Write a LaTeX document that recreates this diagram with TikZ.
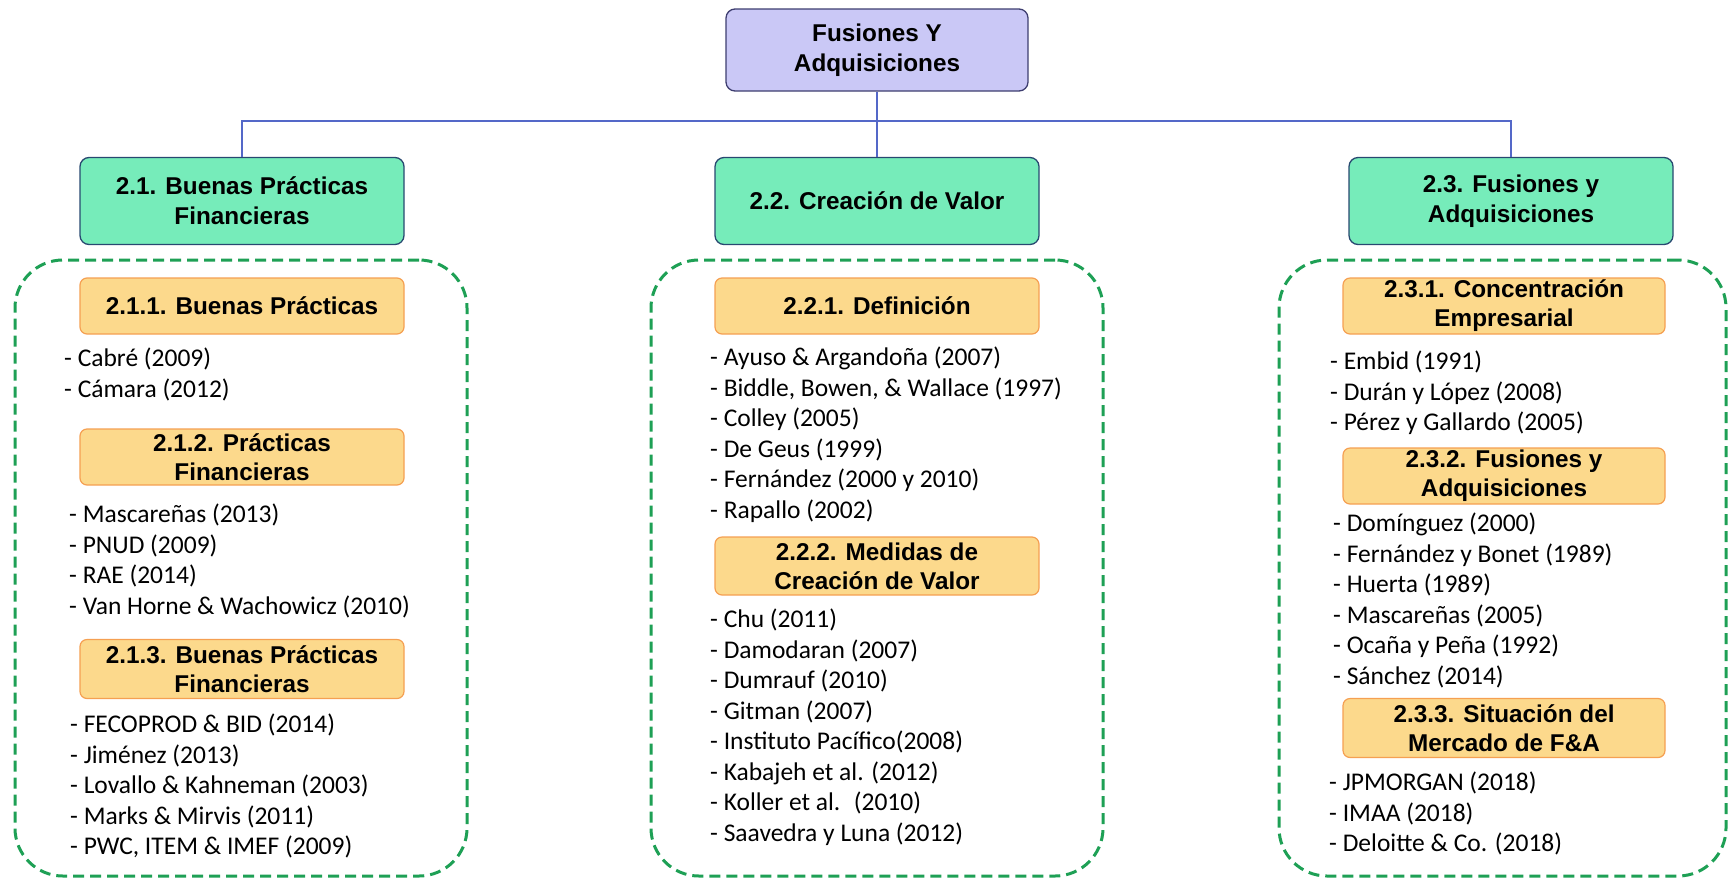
\documentclass[tikz,border=0pt]{standalone}
\usepackage{fontspec}
\setmainfont{Liberation Sans}
\newfontfamily\calibri{Carlito}
\usetikzlibrary{positioning}

\definecolor{topfill}{RGB}{202,200,246}
\definecolor{topline}{RGB}{62,62,112}
\definecolor{secfill}{RGB}{118,236,186}
\definecolor{secline}{RGB}{40,72,112}
\definecolor{subfill}{RGB}{252,217,140}
\definecolor{subline}{RGB}{245,160,82}
\definecolor{grpline}{RGB}{30,160,85}
\definecolor{busline}{RGB}{84,104,200}

\begin{document}
\begin{tikzpicture}[x=1pt,y=-1pt,
    topbox/.style={rectangle,rounded corners=9pt,draw=topline,fill=topfill,line width=1.3pt,
      minimum width=302pt,minimum height=82pt,align=center,
      font=\bfseries\fontsize{24.3}{30}\selectfont},
    secbox/.style={rectangle,rounded corners=9pt,draw=secline,fill=secfill,line width=1.3pt,
      minimum width=324pt,minimum height=87pt,align=center,
      font=\bfseries\fontsize{24.3}{30}\selectfont},
    subbox/.style={rectangle,rounded corners=7pt,draw=subline,fill=subfill,line width=1.2pt,
      minimum width=324pt,minimum height=56pt,align=center,inner sep=2pt,
      font=\bfseries\fontsize{24.3}{29}\selectfont},
    grpbox/.style={rectangle,rounded corners=48pt,draw=grpline,line width=3pt,
      dash pattern=on 11pt off 6pt},
    reflist/.style={anchor=north west,inner sep=0pt,align=left,
      font=\calibri\fontsize{25.5}{30.5}\selectfont},
    bus/.style={draw=busline,line width=1.2pt}]

  \useasboundingbox (0,0) rectangle (1728,879);

  \node[grpbox,minimum width=452pt,minimum height=616pt] (G1) at (241,568) {};
  \node[grpbox,minimum width=452pt,minimum height=616pt] (G2) at (877,568) {};
  \node[grpbox,minimum width=447pt,minimum height=616pt] (G3) at (1502.5,568) {};

  \node[topbox] (FA) at (877,50) {Fusiones Y\\Adquisiciones};

  \node[secbox] (BPF) at (242,201) {2.1. Buenas Prácticas\\Financieras};
  \node[secbox] (CV)  at (877,201) {2.2. Creación de Valor};
  \node[secbox] (FYA) at (1511,201) {2.3. Fusiones y\\Adquisiciones};

  \coordinate (bus) at (877,121);
  \path[bus] (FA.south) -- (bus) -| (BPF.north);
  \path[bus] (bus) -| (FYA.north);
  \path[bus] (bus) -- (CV.north);

  \node[subbox] (BP)   at (242,306) {2.1.1. Buenas Prácticas};
  \node[subbox] (PF)   at (242,457) {2.1.2. Prácticas\\Financieras};
  \node[subbox,minimum height=59pt] (BPF2) at (242,669) {2.1.3. Buenas Prácticas\\Financieras};

  \node[subbox] (DEF)  at (877,306) {2.2.1. Definición};
  \node[subbox,minimum height=58pt] (MCV)  at (877,566) {2.2.2. Medidas de\\Creación de Valor};

  \node[subbox,minimum width=322pt] (CE)   at (1504,306) {2.3.1. Concentración\\Empresarial};
  \node[subbox,minimum width=322pt] (FYA2) at (1504,476) {2.3.2. Fusiones y\\Adquisiciones};
  \node[subbox,minimum width=322pt,minimum height=59pt] (SM) at (1504,728) {2.3.3. Situación del\\Mercado de F\&A};

  \node[reflist] (refBP) at (64,348) {- Cabré (2009)\\- Cámara (2012)};
  \node[reflist] (refPF) at (69,504) {- Mascareñas (2013)\\- PNUD (2009)\\- RAE (2014)\\- Van Horne \& Wachowicz (2010)};
  \node[reflist] (refBPF) at (70,714) {- FECOPROD \& BID (2014)\\- Jiménez (2013)\\- Lovallo \& Kahneman (2003)\\- Marks \& Mirvis (2011)\\- PWC, ITEM \& IMEF (2009)};

  \node[reflist] (refDEF) at (710,347) {- Ayuso \& Argandoña (2007)\\- Biddle, Bowen, \& Wallace (1997)\\- Colley (2005)\\- De Geus (1999)\\- Fernández (2000 y 2010)\\- Rapallo (2002)};
  \node[reflist] (refMCV) at (710,609) {- Chu (2011)\\- Damodaran (2007)\\- Dumrauf (2010)\\- Gitman (2007)\\- Instituto Pacífico(2008)\\- Kabajeh et al. (2012)\\- Koller et al.~ (2010)\\- Saavedra y Luna (2012)};

  \node[reflist] (refCE) at (1330,351) {- Embid (1991)\\- Durán y López (2008)\\- Pérez y Gallardo (2005)};
  \node[reflist] (refFYA) at (1333,513) {- Domínguez (2000)\\- Fernández y Bonet (1989)\\- Huerta (1989)\\- Mascareñas (2005)\\- Ocaña y Peña (1992)\\- Sánchez (2014)};
  \node[reflist] (refSM) at (1329,772) {- JPMORGAN (2018)\\- IMAA (2018)\\- Deloitte \& Co. (2018)};
\end{tikzpicture}
\end{document}
